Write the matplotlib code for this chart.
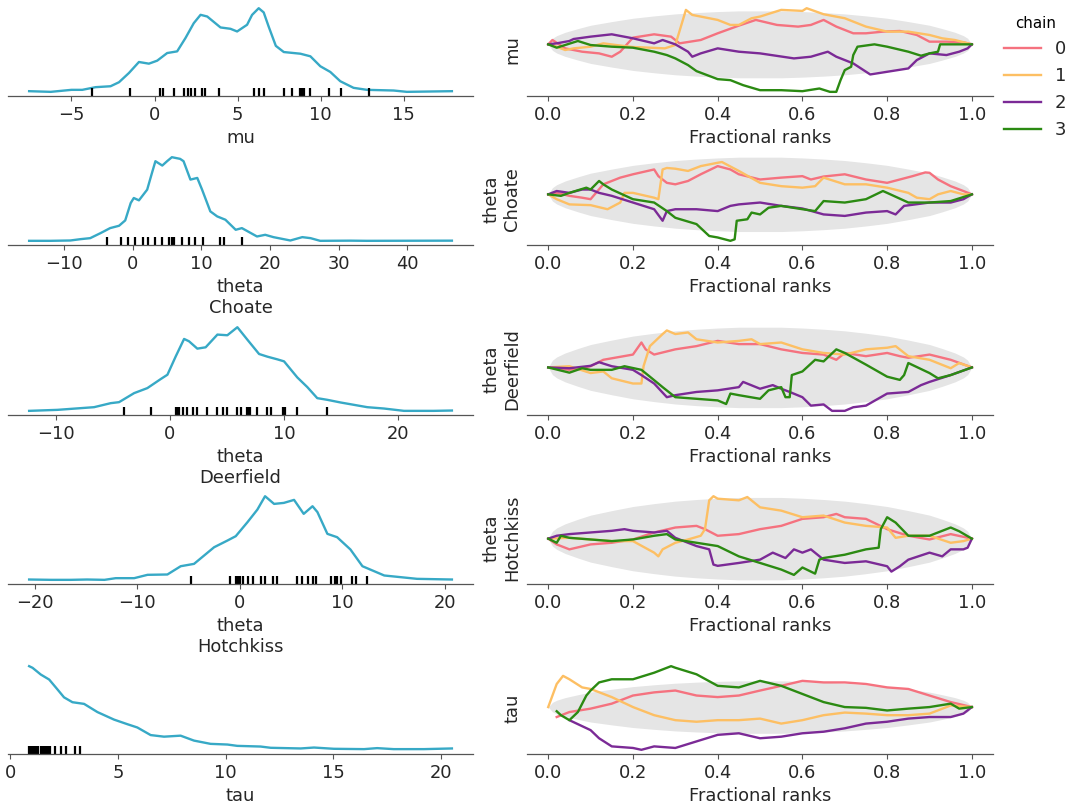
import matplotlib.pyplot as plt
import numpy as np

plt.rcParams['font.family'] = ['DejaVu Sans']
plt.rcParams['axes.unicode_minus'] = True

# 变量名称（左列为 KDE，右列为秩 ECDF 差值）
var_labels = ['mu', 'theta\nChoate', 'theta\nDeerfield', 'theta\nHotchkiss', 'tau']
chain_names = ['0', '1', '2', '3']
chain_colors = ['#f5727f', '#fdbf63', '#7b2a96', '#2b8a12']
kde_color = '#37a9c6'

# 左列 x 轴刻度
mu_ticks = [-5, 0, 5, 10, 15]
choate_ticks = [-10, 0, 10, 20, 30, 40]
deer_ticks = [-10, 0, 10, 20]
hotch_ticks = [-20, -10, 0, 10, 20]
tau_ticks = [0, 5, 10, 15, 20]
rank_ticks = [0.0, 0.2, 0.4, 0.6, 0.8, 1.0]

# KDE 曲线 (x, 相对密度)
mu_kde = [(-7.55, 0.008), (-6.25, 0.0), (-5.0, 0.024), (-4.35, 0.024), (-3.55, 0.056), (-2.65, 0.067),
          (-2.14, 0.115), (-1.54, 0.226), (-0.94, 0.357), (-0.34, 0.337), (0.16, 0.373), (0.76, 0.464),
          (1.36, 0.484), (1.86, 0.643), (2.36, 0.821), (2.77, 0.921), (3.17, 0.901), (3.97, 0.77),
          (4.57, 0.754), (4.97, 0.722), (5.57, 0.802), (5.87, 0.92), (6.27, 1.0), (6.57, 0.95),
          (6.87, 0.78), (7.3, 0.55), (7.78, 0.476), (8.78, 0.456), (9.38, 0.425), (9.98, 0.306),
          (10.58, 0.238), (11.18, 0.127), (11.98, 0.048), (12.79, 0.024), (14.39, 0.016), (15.19, 0.0),
          (17.9, 0.008)]
choate_kde = [(-15.1, 0.0), (-12.0, 0.0), (-9.1, 0.004), (-7.6, 0.02), (-6.2, 0.032), (-4.7, 0.092),
              (-3.3, 0.152), (-2.0, 0.18), (-1.1, 0.244), (-0.3, 0.452), (0.15, 0.512), (0.9, 0.484),
              (2.1, 0.612), (2.8, 0.812), (3.3, 0.952), (4.3, 0.9), (5.0, 0.952), (5.7, 1.0), (6.9, 0.98),
              (7.4, 0.952), (8.4, 0.732), (9.4, 0.752), (10.1, 0.612), (11.3, 0.352), (12.3, 0.292),
              (13.5, 0.252), (15.0, 0.132), (15.9, 0.152), (18.1, 0.052), (19.3, 0.072), (20.5, 0.044),
              (22.96, 0.004), (24.7, 0.044), (25.9, 0.032), (27.3, 0.0), (31.7, 0.002), (34.1, 0.0),
              (46.5, 0.002)]
deer_kde = [(-12.35, 0.0), (-9.87, 0.012), (-6.66, 0.044), (-5.2, 0.092), (-4.47, 0.104), (-3.15, 0.212),
            (-1.99, 0.272), (-0.82, 0.38), (-0.23, 0.432), (0.5, 0.652), (1.23, 0.86), (1.66, 0.832),
            (2.39, 0.744), (3.12, 0.76), (4.15, 0.912), (5.02, 0.904), (5.9, 1.0), (6.77, 0.852),
            (7.8, 0.68), (8.53, 0.648), (9.4, 0.616), (9.99, 0.592), (11.15, 0.4), (12.03, 0.284),
            (12.9, 0.152), (13.78, 0.132), (14.95, 0.1), (17.28, 0.044), (18.74, 0.028), (20.5, 0.0),
            (23.1, 0.0), (24.7, 0.004)]
hotch_kde = [(-20.55, 0.004), (-18.4, 0.0), (-16.5, 0.0), (-14.9, 0.004), (-13.2, 0.0), (-12.1, 0.02),
             (-10.3, 0.02), (-9.0, 0.06), (-7.06, 0.064), (-5.76, 0.163), (-4.46, 0.191), (-2.5, 0.39),
             (-1.2, 0.47), (-0.39, 0.522), (0.75, 0.689), (1.72, 0.84), (2.47, 1.0), (3.35, 0.908),
             (4.3, 0.92), (5.3, 0.956), (6.24, 0.789), (7.1, 0.88), (7.58, 0.81), (8.55, 0.55),
             (9.5, 0.51), (10.8, 0.363), (11.97, 0.163), (14.1, 0.052), (17.3, 0.012), (20.7, 0.004)]
tau_kde = [(0.88, 1.0), (1.04, 0.98), (1.42, 0.9), (1.81, 0.84), (2.12, 0.745), (2.5, 0.627), (2.89, 0.569),
           (3.43, 0.549), (4.05, 0.451), (4.82, 0.361), (5.44, 0.306), (5.9, 0.267), (6.52, 0.176),
           (7.14, 0.157), (7.91, 0.169), (8.53, 0.11), (9.3, 0.071), (10.08, 0.063), (10.54, 0.047),
           (11.62, 0.039), (12.09, 0.024), (13.48, 0.016), (14.1, 0.027), (15.02, 0.012), (16.42, 0.008),
           (17.03, 0.02), (17.8, 0.008), (19.2, 0.008), (20.5, 0.016)]

# 底部 rug 标记
mu_rug = [-3.75, -1.5, 0.32, 0.52, 1.2, 1.76, 2.0, 2.2, 2.46, 2.85, 3.05, 3.87, 5.97, 6.27, 6.57,
          7.78, 8.28, 8.78, 8.88, 8.98, 9.38, 10.48, 11.22, 12.93]
choate_rug = [-3.74, -1.7, -0.68, 0.39, 1.5, 2.18, 3.2, 4.27, 5.34, 5.73, 5.97, 7.18, 8.16, 9.13,
              10.19, 12.77, 13.35, 15.97]
deer_rug = [-4.03, -1.69, 0.5, 0.64, 0.79, 1.17, 1.46, 2.04, 2.34, 3.27, 4.15, 4.67, 4.96, 5.84, 6.19,
            6.72, 6.92, 7.01, 7.65, 8.47, 8.88, 9.93, 10.04, 11.09, 13.78]
hotch_rug = [-4.72, -0.98, -0.33, -0.16, 0.03, 0.36, 0.85, 1.33, 2.11, 2.47, 3.28, 3.61, 5.56, 6.11,
             6.67, 7.15, 7.41, 8.94, 9.27, 9.46, 9.85, 10.93, 11.32, 12.46]
tau_rug = [0.88, 0.95, 1.02, 1.1, 1.18, 1.25, 1.3, 1.42, 1.5, 1.55, 1.62, 1.7, 1.78, 1.85, 2.07, 2.38,
           2.6, 3.0, 3.22]

# ECDF 差值置信带（半宽）
env_x = [0.0, 0.01, 0.02, 0.04, 0.07, 0.1, 0.15, 0.2, 0.25, 0.3, 0.35, 0.4, 0.45, 0.5,
         0.55, 0.6, 0.65, 0.7, 0.75, 0.8, 0.85, 0.9, 0.93, 0.96, 0.98, 0.99, 1.0]
env_h = [0.0, 0.018, 0.026, 0.036, 0.047, 0.057, 0.068, 0.078, 0.085, 0.091, 0.095, 0.098, 0.1, 0.1,
         0.1, 0.098, 0.095, 0.091, 0.085, 0.078, 0.068, 0.057, 0.047, 0.036, 0.026, 0.018, 0.0]

# 各链的秩 ECDF 差值 (分数秩, 差值)
mu_c0 = [(0, 0), (0.01, 0.013), (0.04, -0.012), (0.08, -0.022), (0.12, -0.027), (0.15, -0.037), (0.17, -0.022),
         (0.2, 0.02), (0.25, 0.03), (0.29, 0.023), (0.31, 0.003), (0.36, 0.013), (0.4, 0.033), (0.45, 0.056),
         (0.49, 0.073), (0.54, 0.058), (0.59, 0.053), (0.62, 0.058), (0.65, 0.073), (0.68, 0.053), (0.72, 0.033),
         (0.75, 0.033), (0.79, 0.038), (0.83, 0.04), (0.87, 0.028), (0.9, 0.008), (0.94, 0.008), (0.98, 0.006),
         (1.0, 0)]
mu_c1 = [(0, 0), (0.01, -0.002), (0.04, -0.017), (0.06, -0.012), (0.1, -0.007), (0.13, 0.003), (0.16, -0.002),
         (0.2, -0.008), (0.24, -0.01), (0.275, -0.012), (0.3, -0.002), (0.31, 0.04), (0.325, 0.103), (0.34, 0.088),
         (0.36, 0.083), (0.4, 0.073), (0.43, 0.058), (0.45, 0.058), (0.48, 0.078), (0.5, 0.083), (0.55, 0.103),
         (0.6, 0.1), (0.61, 0.108), (0.65, 0.09), (0.7, 0.078), (0.75, 0.053), (0.8, 0.038), (0.85, 0.038),
         (0.9, 0.028), (0.93, 0.018), (0.96, 0.013), (1.0, 0)]
mu_c2 = [(0, 0), (0.02, 0.003), (0.05, 0.01), (0.06, 0.016), (0.1, 0.023), (0.15, 0.03), (0.2, 0.018),
         (0.25, 0.003), (0.27, 0.013), (0.3, 0.0), (0.33, -0.022), (0.34, -0.037), (0.36, -0.027), (0.4, -0.012),
         (0.45, -0.022), (0.5, -0.027), (0.58, -0.042), (0.62, -0.037), (0.66, -0.022), (0.68, -0.037),
         (0.72, -0.057), (0.76, -0.09), (0.8, -0.082), (0.85, -0.072), (0.87, -0.047), (0.9, -0.027),
         (0.94, -0.032), (0.97, -0.022), (0.99, -0.012), (1.0, 0)]
mu_c3 = [(0, 0), (0.02, -0.01), (0.07, 0.01), (0.1, -0.002), (0.15, -0.007), (0.2, -0.01), (0.25, -0.022),
         (0.28, -0.032), (0.3, -0.042), (0.33, -0.062), (0.35, -0.08), (0.4, -0.104), (0.43, -0.107),
         (0.46, -0.122), (0.5, -0.137), (0.55, -0.137), (0.6, -0.14), (0.64, -0.132), (0.665, -0.142),
         (0.68, -0.142), (0.69, -0.107), (0.7, -0.077), (0.715, -0.067), (0.72, -0.032), (0.73, -0.007),
         (0.77, 0.0), (0.8, -0.007), (0.85, -0.022), (0.88, -0.034), (0.9, -0.027), (0.92, -0.022),
         (0.925, 0.0), (0.96, 0.0), (1.0, 0)]

choate_c0 = [(0, 0), (0.02, 0.004), (0.05, -0.004), (0.08, -0.009), (0.1, -0.013), (0.13, 0.027), (0.17, 0.045),
             (0.2, 0.054), (0.25, 0.067), (0.26, 0.049), (0.28, 0.031), (0.3, 0.027), (0.33, 0.036), (0.36, 0.054),
             (0.4, 0.076), (0.43, 0.067), (0.45, 0.054), (0.5, 0.04), (0.55, 0.045), (0.6, 0.049), (0.62, 0.04),
             (0.65, 0.048), (0.7, 0.054), (0.75, 0.04), (0.8, 0.031), (0.83, 0.04), (0.86, 0.049), (0.89, 0.059),
             (0.9, 0.058), (0.92, 0.04), (0.95, 0.022), (0.98, 0.009), (1.0, 0)]
choate_c1 = [(0, 0), (0.02, -0.013), (0.05, -0.027), (0.1, -0.029), (0.14, -0.04), (0.17, -0.022), (0.18, 0.004),
             (0.2, 0.004), (0.25, -0.009), (0.26, -0.013), (0.27, 0.067), (0.28, 0.071), (0.3, 0.069),
             (0.33, 0.063), (0.36, 0.076), (0.4, 0.085), (0.41, 0.087), (0.45, 0.063), (0.5, 0.031), (0.55, 0.022),
             (0.6, 0.018), (0.63, 0.022), (0.65, 0.045), (0.7, 0.027), (0.75, 0.027), (0.8, 0.018), (0.85, 0.004),
             (0.87, -0.009), (0.9, -0.013), (0.92, 0.0), (0.95, 0.009), (0.98, 0.0), (1.0, 0)]
choate_c2 = [(0, 0), (0.02, 0.009), (0.05, 0.004), (0.08, 0.013), (0.1, 0.013), (0.12, 0.004), (0.15, -0.004),
             (0.2, -0.022), (0.25, -0.04), (0.27, -0.071), (0.28, -0.045), (0.3, -0.04), (0.35, -0.04),
             (0.4, -0.045), (0.43, -0.031), (0.45, -0.027), (0.5, -0.022), (0.55, -0.031), (0.6, -0.038),
             (0.65, -0.054), (0.7, -0.058), (0.75, -0.049), (0.8, -0.045), (0.82, -0.054), (0.84, -0.031),
             (0.9, -0.022), (0.95, -0.022), (0.98, -0.013), (1.0, 0)]
choate_c3 = [(0, 0), (0.03, -0.004), (0.05, 0.004), (0.09, 0.018), (0.1, 0.013), (0.12, 0.036), (0.13, 0.027),
             (0.15, 0.013), (0.2, -0.013), (0.25, -0.022), (0.28, -0.045), (0.3, -0.063), (0.35, -0.08),
             (0.38, -0.112), (0.4, -0.116), (0.43, -0.125), (0.44, -0.121), (0.445, -0.071), (0.47, -0.067),
             (0.48, -0.049), (0.5, -0.054), (0.52, -0.036), (0.55, -0.031), (0.6, -0.04), (0.63, -0.045),
             (0.65, -0.018), (0.7, -0.022), (0.75, -0.013), (0.79, 0.009), (0.8, 0.004), (0.85, -0.022),
             (0.9, -0.022), (0.95, -0.018), (1.0, 0)]

deer_c0 = [(0, 0), (0.05, -0.006), (0.1, 0.003), (0.13, 0.019), (0.2, 0.032), (0.22, 0.062), (0.23, 0.045),
           (0.25, 0.032), (0.3, 0.045), (0.35, 0.053), (0.4, 0.066), (0.45, 0.058), (0.5, 0.058), (0.55, 0.045),
           (0.6, 0.036), (0.65, 0.032), (0.68, 0.019), (0.7, 0.036), (0.75, 0.028), (0.8, 0.036), (0.83, 0.028),
           (0.85, 0.024), (0.9, 0.032), (0.95, 0.019), (1.0, 0)]
deer_c1 = [(0, 0), (0.05, 0.003), (0.1, -0.014), (0.13, -0.01), (0.15, -0.027), (0.2, -0.04), (0.22, -0.04),
           (0.225, 0.003), (0.24, 0.053), (0.27, 0.083), (0.28, 0.092), (0.3, 0.083), (0.33, 0.087), (0.35, 0.07),
           (0.4, 0.062), (0.45, 0.066), (0.48, 0.07), (0.5, 0.058), (0.55, 0.062), (0.6, 0.045), (0.65, 0.036),
           (0.7, 0.032), (0.75, 0.045), (0.8, 0.049), (0.82, 0.053), (0.85, 0.028), (0.9, 0.019),
           (0.95, -0.002), (0.97, 0.011), (1.0, 0)]
deer_c2 = [(0, 0), (0.05, -0.002), (0.1, 0.004), (0.12, 0.013), (0.15, 0.003), (0.2, -0.006), (0.22, -0.019),
           (0.25, -0.04), (0.28, -0.074), (0.3, -0.069), (0.35, -0.061), (0.4, -0.057), (0.45, -0.049),
           (0.46, -0.036), (0.5, -0.053), (0.53, -0.044), (0.55, -0.053), (0.57, -0.061), (0.6, -0.074),
           (0.62, -0.095), (0.65, -0.092), (0.67, -0.108), (0.7, -0.108), (0.72, -0.099), (0.75, -0.095),
           (0.8, -0.065), (0.85, -0.061), (0.88, -0.044), (0.9, -0.036), (0.95, -0.019), (1.0, 0)]
deer_c3 = [(0, 0), (0.05, -0.013), (0.08, -0.002), (0.1, -0.006), (0.15, -0.006), (0.18, 0.003), (0.22, -0.006),
           (0.24, -0.023), (0.27, -0.049), (0.3, -0.074), (0.35, -0.078), (0.4, -0.082), (0.42, -0.091),
           (0.43, -0.065), (0.45, -0.069), (0.5, -0.078), (0.52, -0.057), (0.55, -0.049), (0.56, -0.074),
           (0.57, -0.074), (0.575, -0.019), (0.6, -0.01), (0.63, 0.019), (0.65, 0.015), (0.68, 0.045),
           (0.7, 0.036), (0.75, 0.007), (0.8, -0.023), (0.83, -0.031), (0.84, -0.019), (0.85, 0.011),
           (0.9, -0.014), (0.92, -0.027), (0.95, -0.019), (1.0, 0)]

hotch_c0 = [(0, 0), (0.02, -0.014), (0.05, -0.026), (0.1, -0.014), (0.15, -0.01), (0.2, -0.002), (0.25, 0.015),
            (0.3, 0.027), (0.35, 0.031), (0.37, 0.023), (0.4, 0.007), (0.45, 0.011), (0.5, 0.023), (0.55, 0.031),
            (0.6, 0.048), (0.65, 0.052), (0.68, 0.06), (0.7, 0.052), (0.75, 0.048), (0.8, 0.023), (0.85, 0.007),
            (0.9, -0.002), (0.95, 0.011), (1.0, 0)]
hotch_c1 = [(0, 0), (0.05, 0.002), (0.1, -0.002), (0.15, -0.006), (0.2, -0.006), (0.25, -0.034), (0.26, -0.043),
            (0.27, -0.026), (0.3, -0.01), (0.33, -0.002), (0.36, 0.007), (0.37, 0.023), (0.38, 0.093),
            (0.39, 0.103), (0.4, 0.097), (0.45, 0.093), (0.47, 0.101), (0.5, 0.076), (0.55, 0.068), (0.6, 0.052),
            (0.65, 0.056), (0.7, 0.039), (0.75, 0.031), (0.8, 0.027), (0.82, 0.002), (0.85, 0.007), (0.9, 0.007),
            (0.95, -0.01), (0.98, -0.006), (1.0, 0)]
hotch_c2 = [(0, 0), (0.02, 0.007), (0.05, 0.011), (0.1, 0.015), (0.15, 0.019), (0.18, 0.023), (0.2, 0.019),
            (0.25, 0.015), (0.28, 0.019), (0.3, 0.002), (0.35, -0.018), (0.38, -0.026), (0.39, -0.063),
            (0.4, -0.066), (0.45, -0.059), (0.5, -0.051), (0.53, -0.034), (0.56, -0.047), (0.58, -0.026),
            (0.6, -0.034), (0.62, -0.026), (0.65, -0.051), (0.7, -0.059), (0.75, -0.055), (0.8, -0.067),
            (0.81, -0.08), (0.83, -0.067), (0.85, -0.051), (0.9, -0.034), (0.93, -0.043), (0.95, -0.026),
            (0.98, -0.026), (0.99, -0.022), (1.0, 0)]
hotch_c3 = [(0, 0), (0.02, -0.01), (0.03, 0.007), (0.05, 0.002), (0.1, -0.002), (0.15, -0.006), (0.2, -0.002),
            (0.25, 0.007), (0.28, 0.011), (0.3, -0.002), (0.35, -0.01), (0.4, -0.018), (0.45, -0.043),
            (0.5, -0.059), (0.55, -0.075), (0.58, -0.088), (0.6, -0.07), (0.63, -0.085), (0.64, -0.051),
            (0.65, -0.047), (0.7, -0.039), (0.75, -0.026), (0.78, -0.022), (0.785, 0.023), (0.8, 0.052),
            (0.82, 0.039), (0.85, 0.007), (0.9, 0.007), (0.95, 0.027), (0.97, 0.018), (1.0, 0)]

tau_c0 = [(0.02, -0.038), (0.05, -0.019), (0.1, -0.006), (0.15, 0.013), (0.2, 0.044), (0.25, 0.056), (0.3, 0.063),
          (0.35, 0.044), (0.4, 0.038), (0.45, 0.044), (0.5, 0.063), (0.55, 0.081), (0.6, 0.1), (0.65, 0.094),
          (0.7, 0.094), (0.75, 0.088), (0.8, 0.075), (0.85, 0.069), (0.9, 0.044), (0.95, 0.019), (1.0, 0)]
tau_c1 = [(0, 0), (0.01, 0.044), (0.02, 0.088), (0.035, 0.119), (0.05, 0.106), (0.08, 0.075), (0.1, 0.069),
          (0.15, 0.038), (0.2, 0.0), (0.25, -0.031), (0.3, -0.05), (0.35, -0.056), (0.4, -0.05), (0.45, -0.05),
          (0.5, -0.044), (0.55, -0.063), (0.6, -0.05), (0.65, -0.031), (0.7, -0.021), (0.75, -0.025),
          (0.8, -0.031), (0.85, -0.031), (0.9, -0.025), (0.95, 0.006), (1.0, 0)]
tau_c2 = [(0.05, -0.05), (0.1, -0.088), (0.12, -0.119), (0.15, -0.15), (0.2, -0.156), (0.22, -0.163),
          (0.25, -0.15), (0.3, -0.156), (0.35, -0.131), (0.4, -0.106), (0.45, -0.1), (0.5, -0.119),
          (0.55, -0.113), (0.6, -0.1), (0.65, -0.094), (0.7, -0.081), (0.75, -0.063), (0.8, -0.056),
          (0.85, -0.044), (0.9, -0.038), (0.95, -0.038), (0.98, -0.025), (1.0, 0)]
tau_c3 = [(0.02, -0.016), (0.03, -0.031), (0.05, -0.05), (0.07, -0.019), (0.09, 0.044), (0.1, 0.063),
          (0.12, 0.094), (0.15, 0.106), (0.2, 0.106), (0.25, 0.131), (0.29, 0.156), (0.3, 0.15), (0.35, 0.125),
          (0.4, 0.081), (0.45, 0.075), (0.5, 0.1), (0.55, 0.081), (0.6, 0.05), (0.65, 0.019), (0.7, 0.0),
          (0.75, -0.003), (0.8, -0.013), (0.85, -0.006), (0.9, 0.0), (0.95, 0.013), (0.97, -0.006), (1.0, 0)]

panels = [
    (mu_kde, mu_rug, mu_ticks, [mu_c0, mu_c1, mu_c2, mu_c3]),
    (choate_kde, choate_rug, choate_ticks, [choate_c0, choate_c1, choate_c2, choate_c3]),
    (deer_kde, deer_rug, deer_ticks, [deer_c0, deer_c1, deer_c2, deer_c3]),
    (hotch_kde, hotch_rug, hotch_ticks, [hotch_c0, hotch_c1, hotch_c2, hotch_c3]),
    (tau_kde, tau_rug, tau_ticks, [tau_c0, tau_c1, tau_c2, tau_c3]),
]

# 布局（图像坐标）
row_bottoms = [0.881, 0.6964, 0.4857, 0.2763, 0.0657]
row_h = 0.114
spine_col = '#555555'
text_col = '#262626'
tick_fs = 12.9
label_fs = 12.9


def style_axis(ax):
    for s in ['left', 'top', 'right']:
        ax.spines[s].set_visible(False)
    ax.spines['bottom'].set_color(spine_col)
    ax.spines['bottom'].set_linewidth(0.9)
    ax.set_yticks([])
    ax.tick_params(axis='x', colors=spine_col, labelcolor=text_col, labelsize=tick_fs,
                   length=3.5, width=0.8)


fig = plt.figure(figsize=(10.8, 8.07), dpi=100)

handles = []
for i, (kde, rug, ticks, chains) in enumerate(panels):
    # 左列：KDE + rug
    axl = fig.add_axes([0.0074, row_bottoms[i], 0.4306, row_h])
    kx, ky = zip(*kde)
    axl.plot(kx, ky, color=kde_color, lw=1.7)
    axl.plot(rug, np.zeros(len(rug)), '|', color='black', ms=5.5, mew=1.6)
    axl.set_xticks(ticks)
    axl.set_xlabel(var_labels[i], fontsize=label_fs, color=text_col)
    style_axis(axl)

    # 右列：秩 ECDF 差值
    axr = fig.add_axes([0.488, row_bottoms[i], 0.4315, row_h])
    axr.fill_between(env_x, -np.array(env_h), env_h, color='#e5e5e5', lw=0)
    for c, ch in enumerate(chains):
        cx, cy = zip(*ch)
        ln, = axr.plot(cx, cy, color=chain_colors[c], lw=1.7)
        if i == 0:
            handles.append(ln)
    axr.set_xticks(rank_ticks)
    axr.set_xlabel('Fractional ranks', fontsize=label_fs, color=text_col)
    axr.set_ylabel(var_labels[i], fontsize=label_fs, color=text_col)
    style_axis(axr)

fig.legend(handles, chain_names, title='chain', loc='upper left', bbox_to_anchor=(0.915, 1.0),
           frameon=False, fontsize=13, title_fontsize=10.8, labelcolor=text_col)

fig.savefig('out.png', dpi=100)
